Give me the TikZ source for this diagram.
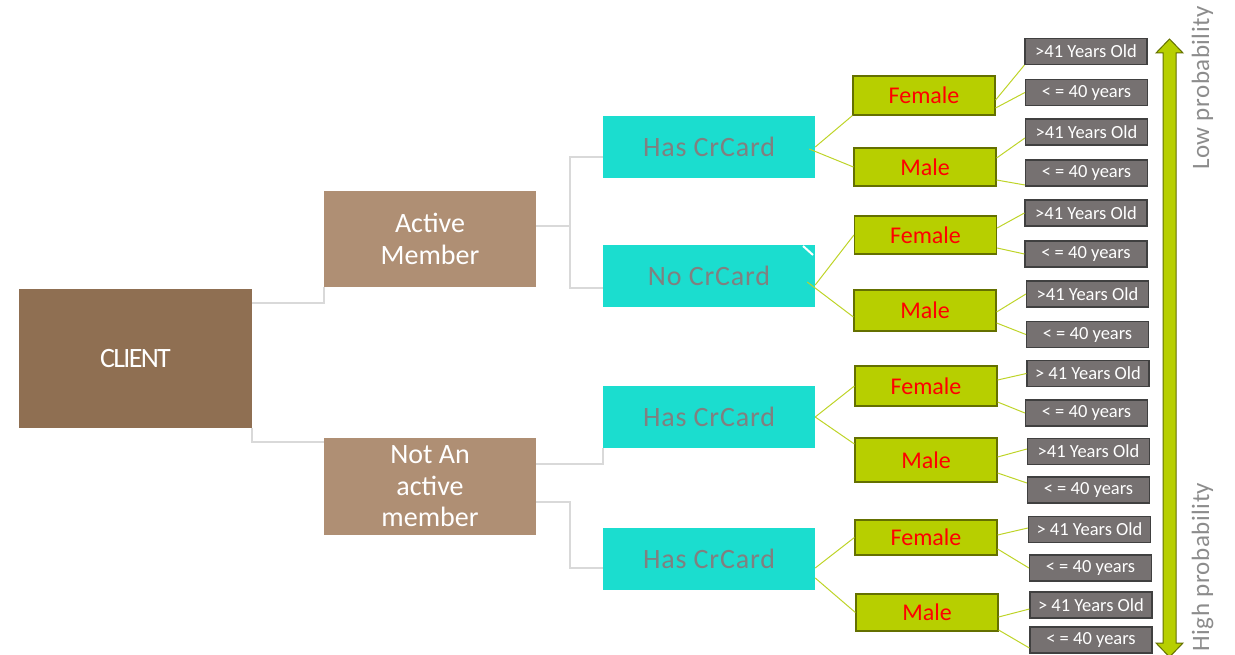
\documentclass[tikz,border=0pt]{standalone}
\usepackage{fontspec}
\setmainfont{Carlito}
\newfontfamily\cardfont[LetterSpace=3]{Carlito}
\newfontfamily\clientfont[LetterSpace=-6]{Carlito}
\newfontfamily\probfont[LetterSpace=2]{Carlito}
\definecolor{clientc}{RGB}{143,111,82}
\definecolor{memberc}{RGB}{175,143,116}
\definecolor{cyanc}{RGB}{27,221,207}
\definecolor{cardtext}{RGB}{128,128,128}
\definecolor{greenc}{RGB}{183,207,0}
\definecolor{greenedge}{RGB}{100,112,0}
\definecolor{agec}{RGB}{118,113,113}
\definecolor{ageedge}{RGB}{64,64,64}
\definecolor{elbowc}{RGB}{217,217,217}
\definecolor{linkc}{RGB}{190,212,40}
\definecolor{probc}{RGB}{140,140,140}
\tikzset{
  clientbox/.style={fill=clientc, text=white, inner sep=0pt, minimum width=233pt, minimum height=139pt, font=\clientfont\fontsize{28}{32}\selectfont},
  memberbox/.style={fill=memberc, text=white, inner sep=0pt, align=center, minimum width=212pt, minimum height=96pt, font=\fontsize{28}{31.5}\selectfont},
  cardbox/.style={fill=cyanc, text=cardtext, inner sep=0pt, minimum width=212pt, minimum height=62pt, font=\cardfont\fontsize{28}{32}\selectfont},
  sexbox/.style={fill=greenc, draw=greenedge, line width=1.2pt, text=red, inner sep=0pt, minimum width=142pt, font=\fontsize{24}{28}\selectfont},
  agebox/.style={fill=agec, draw=ageedge, line width=1.2pt, text=white, inner sep=0pt, minimum width=122pt, minimum height=26pt, font=\fontsize{18.5}{22}\selectfont},
  elbow/.style={draw=elbowc, line width=1.5pt},
  link/.style={draw=linkc, line width=1pt},
  problabel/.style={text=probc, rotate=90, inner sep=0pt, font=\probfont\fontsize{25}{30}\selectfont}
}
\begin{document}
\begin{tikzpicture}[x=1pt,y=-1pt]
\useasboundingbox (0,0) rectangle (1235,655);

% main nodes
\node[clientbox] (client) at (135.5,358.5) {CLIENT};
\node[memberbox] (am) at (430,239) {Active\\Member};
\node[memberbox, minimum height=97pt] (nam) at (430,486.5) {Not An\\active\\member};

\node[cardbox] (hc1) at (709,147) {Has CrCard};
\node[cardbox] (nc) at (709,276) {No CrCard};
\node[cardbox] (hc2) at (709,417) {Has CrCard};
\node[cardbox] (hc3) at (709,559) {Has CrCard};
\draw[white, line width=2pt] (803,246) -- (813,255);

\node[sexbox, minimum height=39pt] (f1) at (924,95.5) {Female};
\node[sexbox, minimum height=38pt] (m1) at (925,167) {Male};
\node[sexbox, minimum height=38pt] (f2) at (925.5,235) {Female};
\node[sexbox, minimum height=41pt] (m2) at (925,310.5) {Male};
\node[sexbox, minimum height=40pt] (f3) at (926,386) {Female};
\node[sexbox, minimum height=44pt] (m3) at (926,460) {Male};
\node[sexbox, minimum height=35pt] (f4) at (926,537.5) {Female};
\node[sexbox, minimum height=37pt] (m4) at (927,612.5) {Male};

\node[agebox] (g1) at (1086,51.5) {>41 Years Old};
\node[agebox] (g2) at (1086.5,92.5) {< = 40 years};
\node[agebox] (g3) at (1086.5,132) {>41 Years Old};
\node[agebox] (g4) at (1086.5,173) {< = 40 years};
\node[agebox] (g5) at (1086,213) {>41 Years Old};
\node[agebox] (g6) at (1086,254) {< = 40 years};
\node[agebox] (g7) at (1087.5,294) {>41 Years Old};
\node[agebox] (g8) at (1087.5,334.5) {< = 40 years};
\node[agebox] (g9) at (1088,373.5) {> 41 Years Old};
\node[agebox] (g10) at (1086.5,413) {< = 40 years};
\node[agebox] (g11) at (1088.5,451.5) {>41 Years Old};
\node[agebox] (g12) at (1088.5,490) {< = 40 years};
\node[agebox] (g13) at (1089.5,529.5) {> 41 Years Old};
\node[agebox] (g14) at (1090.5,568) {< = 40 years};
\node[agebox] (g15) at (1091,605) {> 41 Years Old};
\node[agebox] (g16) at (1091,640) {< = 40 years};

% elbow connectors
\draw[elbow] (client.east |- 0,303) -| (am.south west);
\draw[elbow] (client.south east) |- (nam.west |- 0,442);
\draw[elbow] (am.east |- 0,226) -- (570,226);
\draw[elbow] (hc1.west |- 0,157) -| (570,288) -- (nc.west |- 0,288);
\draw[elbow] (nam.east |- 0,464) -| (hc2.south west);
\draw[elbow] (nam.east |- 0,502) -| (570,568) -- (hc3.west |- 0,568);

% card to sex links
\draw[link] (hc1.east) -- (f1.south west);
\draw[link] ([xshift=-6pt]hc1.east |- 0,149) -- (m1.west);
\draw[link] (nc.east |- 0,285) -- (f2.west);
\draw[link] ([xshift=-8pt]nc.east |- 0,282) -- (m2.west |- 0,317);
\draw[link] (hc2.east) -- (f3.west);
\draw[link] (hc2.east) -- (m3.west |- 0,444);
\draw[link] (hc3.east |- 0,568) -- (f4.west);
\draw[link] (hc3.east |- 0,578) -- (m4.west);

% sex to age links
\draw[link] (f1.east |- 0,100) -- (g1.south west);
\draw[link] (f1.east |- 0,108) -- (g2.west);
\draw[link] (m1.east |- 0,158) -- (g3.west |- 0,138);
\draw[link] (m1.east |- 0,180) -- (g4.west |- 0,185);
\draw[link] (f2.east |- 0,228) -- (g5.west);
\draw[link] (f2.east |- 0,248) -- (g6.west);
\draw[link] (m2.east |- 0,312) -- (g7.west);
\draw[link] (m2.east |- 0,323) -- (g8.west);
\draw[link] (f3.east |- 0,380) -- (g9.west);
\draw[link] (f3.east |- 0,402) -- (g10.west);
\draw[link] (m3.east |- 0,457) -- (g11.west |- 0,449);
\draw[link] (m3.east |- 0,473) -- (g12.west |- 0,483);
\draw[link] (f4.east |- 0,535) -- (g13.west |- 0,528);
\draw[link] (f4.east |- 0,549) -- (g14.west);
\draw[link] (m4.east |- 0,617) -- (g15.west |- 0,609);
\draw[link] (m4.east |- 0,630) -- (g16.west |- 0,648);

% probability arrow
\begin{scope}
\clip (0,0) rectangle (1235,655);
\filldraw[fill=greenc, draw=greenedge, line width=1pt]
  (1169.5,39) -- (1183,53) -- (1176,53) -- (1176,643) -- (1183,643) -- (1169.5,657)
  -- (1156,643) -- (1163,643) -- (1163,53) -- (1156,53) -- cycle;
\end{scope}
\node[problabel] (low) at (1202.5,88) {Low probability};
\node[problabel] (high) at (1202.5,567) {High probability};
\end{tikzpicture}
\end{document}
